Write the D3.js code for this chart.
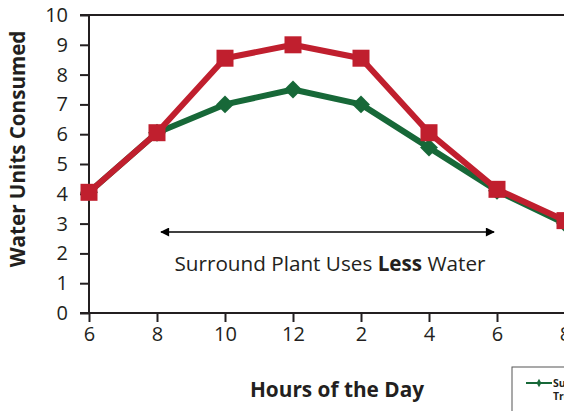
<!DOCTYPE html>
<html>
<head>
<meta charset="utf-8">
<script src="https://cdn.jsdelivr.net/npm/d3@7"></script>
<style>
  body { margin: 0; background: #fff; }
  svg { display: block; }
  text { font-family: "Open Sans", "Noto Sans", sans-serif; fill: #231f20; }
</style>
</head>
<body>
<svg id="svg" width="564" height="411"></svg>
<script>
var hours = ["6", "8", "10", "12", "2", "4", "6", "8"];
var yTicks = [0, 1, 2, 3, 4, 5, 6, 7, 8, 9, 10];
// surround-treated plant (green) and traditional (red)
var surround = [4.05, 6.05, 7.0, 7.5, 7.0, 5.55, 4.1, 3.0];
var traditional = [4.05, 6.05, 8.55, 9.0, 8.55, 6.05, 4.15, 3.1];

var width = 564, height = 411;
var svg = d3.select("#svg");

var x = d3.scaleLinear().domain([0, hours.length - 1]).range([89, 565]);
var y = d3.scaleLinear().domain([0, 10]).range([313, 15]);

var axisCol = "#231f20";

// y axis
var yAxis = svg.append("g").attr("transform", "translate(89,0)")
  .call(d3.axisLeft(y).tickValues(yTicks).tickSize(9).tickPadding(12).tickFormat(d3.format("d")));
// x axis
var xAxis = svg.append("g").attr("transform", "translate(0,313)")
  .call(d3.axisBottom(x).tickValues(d3.range(hours.length)).tickSize(9).tickPadding(5).tickFormat(i => hours[i]));

[yAxis, xAxis].forEach(a => {
  a.select(".domain").remove();
  a.selectAll(".tick line").attr("stroke", axisCol).attr("stroke-width", 2);
  a.selectAll(".tick text").style("font-size", "20px").attr("fill", axisCol);
});
xAxis.selectAll(".tick line").attr("y1", 0);

// frame lines
svg.append("line").attr("x1", 89).attr("x2", 89).attr("y1", y(10)).attr("y2", y(0))
  .attr("stroke", axisCol).attr("stroke-width", 2);
svg.append("line").attr("x1", 80).attr("x2", width).attr("y1", y(0)).attr("y2", y(0))
  .attr("stroke", axisCol).attr("stroke-width", 2);
svg.append("line").attr("x1", 80).attr("x2", width).attr("y1", y(10)).attr("y2", y(10))
  .attr("stroke", axisCol).attr("stroke-width", 2);

var line = d3.line().x((d, i) => x(i)).y(d => y(d));

var green = "#176838", red = "#c01f2e";

svg.append("path").datum(surround).attr("d", line).attr("fill", "none")
  .attr("stroke", green).attr("stroke-width", 6).attr("stroke-linejoin", "round");
svg.selectAll(".dia").data(surround).enter().append("path")
  .attr("class", "dia")
  .attr("d", d3.symbol().type(d3.symbolSquare).size(160))
  .attr("transform", (d, i) => "translate(" + x(i) + "," + y(d) + ") rotate(45)")
  .attr("fill", green);

svg.append("path").datum(traditional).attr("d", line).attr("fill", "none")
  .attr("stroke", red).attr("stroke-width", 6).attr("stroke-linejoin", "round");
svg.selectAll(".sq").data(traditional).enter().append("rect")
  .attr("class", "sq")
  .attr("x", (d, i) => x(i) - 8.5).attr("y", d => y(d) - 8.5)
  .attr("width", 17).attr("height", 17)
  .attr("fill", red);

// annotation arrow
var defs = svg.append("defs");
defs.append("marker").attr("id", "ah").attr("viewBox", "0 0 10 10")
  .attr("refX", 9).attr("refY", 5).attr("markerWidth", 11).attr("markerHeight", 9)
  .attr("markerUnits", "userSpaceOnUse").attr("orient", "auto-start-reverse")
  .append("path").attr("d", "M0,0 L10,5 L0,10 Z").attr("fill", "#000");
svg.append("line").attr("x1", 161).attr("x2", 494).attr("y1", 232).attr("y2", 232)
  .attr("stroke", "#000").attr("stroke-width", 1.5)
  .attr("marker-start", "url(#ah)").attr("marker-end", "url(#ah)");

var note = svg.append("text").attr("x", 330).attr("y", 271).attr("text-anchor", "middle")
  .style("font-size", "20.7px");
note.append("tspan").text("Surround Plant Uses ");
note.append("tspan").style("font-weight", "bold").text("Less");
note.append("tspan").text(" Water");

// axis titles
svg.append("text").attr("transform", "translate(25,149) rotate(-90)")
  .attr("text-anchor", "middle").style("font-size", "20.6px").style("font-weight", "bold")
  .attr("fill", "#000").text("Water Units Consumed");
svg.append("text").attr("x", 337).attr("y", 397).attr("text-anchor", "middle")
  .style("font-size", "20.8px").style("font-weight", "bold").attr("fill", "#000")
  .text("Hours of the Day");

// legend (clipped by the page edge, as in the original)
var lg = svg.append("g").attr("transform", "translate(512,367)");
lg.append("rect").attr("width", 120).attr("height", 60).attr("fill", "#fff")
  .attr("stroke", "#555").attr("stroke-width", 1);
lg.append("line").attr("x1", 14).attr("x2", 40).attr("y1", 16).attr("y2", 16)
  .attr("stroke", green).attr("stroke-width", 2);
lg.append("path").attr("d", d3.symbol().type(d3.symbolDiamond).size(20))
  .attr("transform", "translate(27,16)").attr("fill", green);
var lt = lg.append("text").attr("x", 41).attr("y", 20).style("font-size", "10.5px").style("font-weight", "bold")
  .attr("fill", "#000");
lt.append("tspan").attr("x", 41).text("Surround");
lt.append("tspan").attr("x", 41).attr("dy", 13).text("Treated");
</script>
</body>
</html>
